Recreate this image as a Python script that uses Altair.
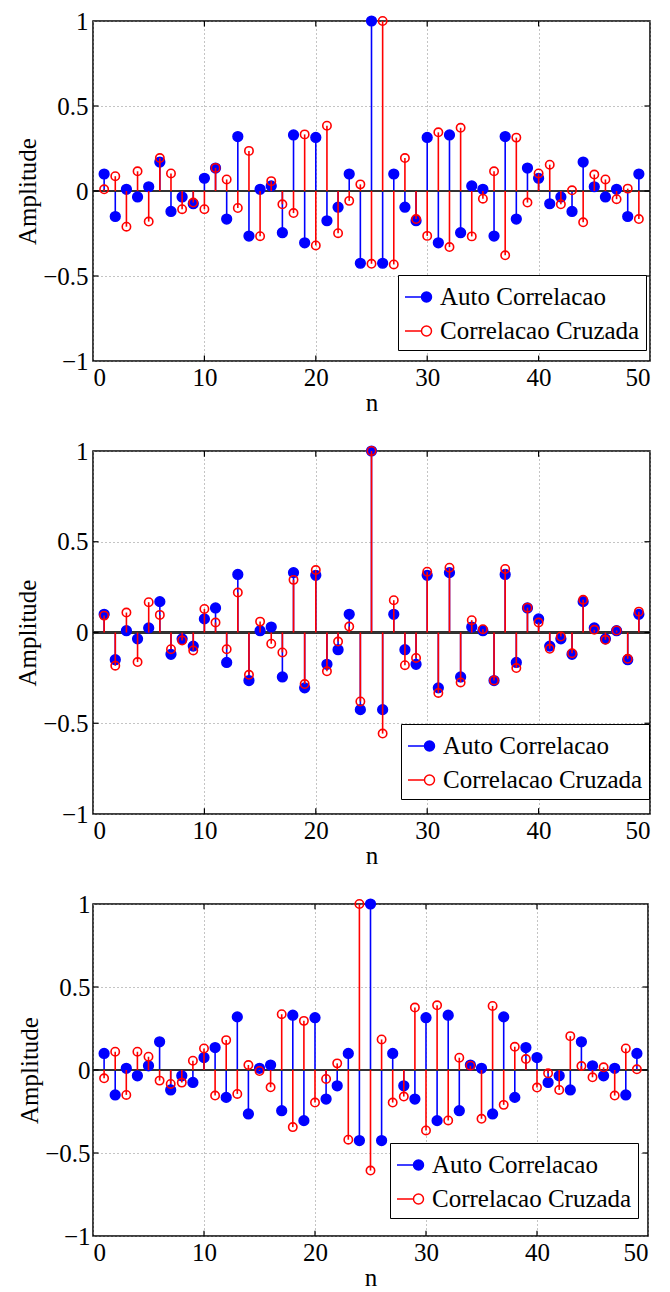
import altair as alt
import pandas as pd

# ---------------- data ----------------
n = list(range(1, 50))

auto = [0.10, -0.15, 0.01, -0.035, 0.025, 0.17, -0.12, -0.035, -0.075, 0.075,
        0.135, -0.165, 0.32, -0.265, 0.01, 0.03, -0.245, 0.33, -0.305, 0.315,
        -0.175, -0.095, 0.10, -0.425, 1.0, -0.425, 0.10, -0.095, -0.175, 0.315,
        -0.305, 0.33, -0.245, 0.03, 0.01, -0.265, 0.32, -0.165, 0.135, 0.075,
        -0.075, -0.035, -0.12, 0.17, 0.025, -0.035, 0.01, -0.15, 0.10]

cross1 = [0.01, 0.087, -0.21, 0.116, -0.18, 0.194, 0.103, -0.107, -0.068, -0.107,
          0.136, 0.068, -0.10, 0.236, -0.266, 0.058, -0.078, -0.13, 0.333, -0.32,
          0.384, -0.248, -0.058, 0.039, -0.428, 1.0, -0.432, 0.194, -0.165, -0.264,
          0.345, -0.33, 0.372, -0.267, -0.045, 0.116, -0.378, 0.314, -0.068, 0.103,
          0.155, -0.078, 0.004, -0.184, 0.097, 0.068, -0.048, 0.014, -0.165]

cross2 = [0.093, -0.183, 0.11, -0.163, 0.167, 0.097, -0.092, -0.044, -0.099, 0.13,
          0.055, -0.092, 0.22, -0.233, 0.06, -0.062, -0.11, 0.29, -0.284, 0.344,
          -0.214, -0.05, 0.033, -0.38, 1.0, -0.557, 0.178, -0.18, -0.14, 0.335,
          -0.333, 0.357, -0.275, 0.068, 0.018, -0.264, 0.35, -0.196, 0.137, 0.055,
          -0.09, -0.022, -0.114, 0.18, 0.015, -0.04, 0.011, -0.145, 0.115]

cross3 = [-0.05, 0.11, -0.15, 0.11, 0.08, -0.064, -0.084, -0.076, 0.056, 0.13,
          -0.154, 0.18, -0.144, 0.03, -0.006, -0.104, 0.336, -0.344, 0.296, -0.196,
          -0.054, 0.04, -0.42, 1.0, -0.606, 0.184, -0.196, -0.16, 0.376, -0.364,
          0.39, -0.304, 0.074, 0.026, -0.294, 0.386, -0.21, 0.14, 0.066, -0.106,
          -0.02, -0.12, 0.204, 0.024, -0.044, 0.016, -0.154, 0.13, 0.004]

series = ["Auto Correlacao", "Correlacao Cruzada"]
x_ticks = [0, 10, 20, 30, 40, 50]
y_ticks = [-1, -0.5, 0, 0.5, 1]
x_inner = [10, 20, 30, 40]
y_inner = [-0.5, 0, 0.5]

# ---------------- styling ----------------
BLUE = "#0000ff"
RED = "#ff0000"
FONT = "Times New Roman, Liberation Serif, Times, serif"
LEGEND_PATH = ("M-1,0L0.1,0M0.1,0A0.333,0.333 0 1 1 0.766,0"
               "A0.333,0.333 0 1 1 0.1,0Z")
TX = 0.5    # inward tick length on the x scale (data units)
TY = 0.032  # inward tick length on the y scale (data units)


def panel(cross, width, height, lx, ly, label_pad=5):
    df = pd.DataFrame({
        "n": n + n,
        "v": auto + cross,
        "s": [series[0]] * len(n) + [series[1]] * len(n),
    })
    xenc = alt.X("n:Q", scale=alt.Scale(domain=[0, 50], nice=False),
                 axis=alt.Axis(values=x_ticks, format="d", title="n",
                               labelPadding=4, titlePadding=0))
    yenc = alt.Y("v:Q", scale=alt.Scale(domain=[-1, 1], nice=False),
                 axis=alt.Axis(values=y_ticks, format="~g", title="Amplitude",
                               labelPadding=label_pad, titlePadding=2))
    leg = alt.Legend(title=None, orient="none", legendX=lx, legendY=ly,
                     symbolType=LEGEND_PATH, symbolSize=900,
                     symbolStrokeWidth=1.5, labelFont=FONT, labelFontSize=25,
                     labelColor="black", labelLimit=400,
                     fillColor="white", strokeColor="black",
                     padding=6, rowPadding=5, labelOffset=4, cornerRadius=0)
    stroke = alt.Stroke("s:N", scale=alt.Scale(domain=series, range=[BLUE, RED]),
                        legend=leg)
    fill = alt.Fill("s:N", scale=alt.Scale(domain=series, range=[BLUE, "transparent"]),
                    legend=leg)

    # inward tick marks on all four sides of the box
    xt = pd.DataFrame({"n": x_inner * 2,
                       "a": [-1] * len(x_inner) + [1] * len(x_inner),
                       "b": [-1 + TY] * len(x_inner) + [1 - TY] * len(x_inner)})
    yt = pd.DataFrame({"v": y_inner * 2,
                       "a": [0] * len(y_inner) + [50] * len(y_inner),
                       "b": [TX] * len(y_inner) + [50 - TX] * len(y_inner)})
    xticks = alt.Chart(xt).mark_rule(color="black", strokeWidth=1.2).encode(
        x=alt.X("n:Q"), y=alt.Y("a:Q"), y2="b:Q")
    yticks = alt.Chart(yt).mark_rule(color="black", strokeWidth=1.2).encode(
        y=alt.Y("v:Q"), x=alt.X("a:Q"), x2="b:Q")

    base = alt.Chart(df)
    baseline = base.mark_rule(color="#333333", strokeWidth=1.5).encode(
        y=alt.datum(0))
    blue = base.transform_filter(alt.datum.s == series[0])
    red = base.transform_filter(alt.datum.s == series[1])
    blue_stem = blue.mark_rule(color=BLUE, strokeWidth=1.6).encode(
        x=xenc, y=yenc, y2=alt.datum(0))
    blue_pt = blue.mark_point(filled=False, opacity=1, size=95, strokeWidth=1.5).encode(
        x=xenc, y=yenc, stroke=stroke, fill=fill)
    red_stem = red.mark_rule(color=RED, strokeWidth=1.6).encode(
        x=xenc, y=yenc, y2=alt.datum(0))
    red_pt = red.mark_point(filled=False, opacity=1, size=70, strokeWidth=1.6).encode(
        x=xenc, y=yenc, stroke=stroke, fill=fill)
    return alt.layer(blue_stem, baseline, xticks, yticks, blue_pt, red_stem,
                     red_pt).properties(width=width, height=height)


p1 = panel(cross1, 557, 340, 305, 254)
p2 = panel(cross2, 557, 363, 308, 273)
p3 = panel(cross3, 555, 332, 297, 239, label_pad=3)

chart = alt.vconcat(p1, p2, p3, spacing=22).resolve_scale(
    stroke="independent", fill="independent"
).properties(
    padding={"left": 6, "top": 0, "right": 0, "bottom": 0},
    background="white",
).configure_axis(
    labelFont=FONT, labelFontSize=25, labelColor="black",
    titleFont=FONT, titleFontSize=25, titleFontWeight="normal", titleColor="black",
    grid=True, gridColor="#888888", gridDash=[1, 3], gridWidth=1,
    ticks=False, domain=False,
).configure_view(
    stroke="black", strokeWidth=1.5
)

chart.save("out.html", embed_options={"renderer": "svg", "actions": False})
